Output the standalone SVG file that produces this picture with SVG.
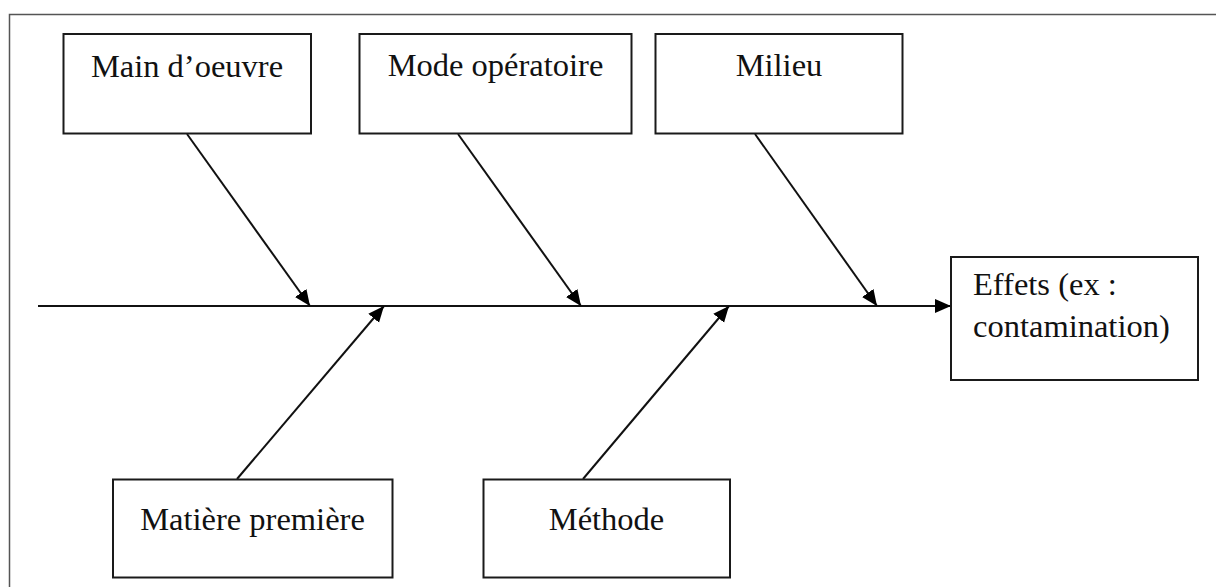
<svg xmlns="http://www.w3.org/2000/svg" width="1216" height="587" viewBox="0 0 1216 587">
  <style>
    .box { fill: #ffffff; stroke: #1a1a1a; stroke-width: 2; }
    .lbl { font-family: "Liberation Serif", "Times New Roman", serif; font-size: 32.5px; fill: #111111; }
    .mid { text-anchor: middle; }
    .conn { stroke: #111111; stroke-width: 2; fill: none; }
  </style>
  <defs>
    <marker id="arrow" markerUnits="userSpaceOnUse" markerWidth="18" markerHeight="16" refX="16" refY="7" orient="auto">
      <path d="M0,0 L16,7 L0,14 z" fill="#000000"/>
    </marker>
  </defs>
  <rect x="0" y="0" width="1216" height="587" fill="#ffffff"/>
  <path id="frame" d="M9.5,587 V14.5 H1216" fill="none" stroke="#555555" stroke-width="1.5"/>

  <g id="connectors">
    <line class="conn" x1="38" y1="306" x2="951" y2="306" marker-end="url(#arrow)"/>
    <line class="conn" x1="187" y1="134" x2="310" y2="306" marker-end="url(#arrow)"/>
    <line class="conn" x1="458" y1="134" x2="581" y2="306" marker-end="url(#arrow)"/>
    <line class="conn" x1="755" y1="134" x2="877" y2="306" marker-end="url(#arrow)"/>
    <line class="conn" x1="237" y1="479" x2="384" y2="306" marker-end="url(#arrow)"/>
    <line class="conn" x1="583" y1="479" x2="729" y2="306" marker-end="url(#arrow)"/>
  </g>

  <g id="main-oeuvre">
    <rect class="box" x="63.5" y="34" width="247.5" height="99.5"/>
    <text class="lbl mid" x="187" y="76.5">Main d’oeuvre</text>
  </g>
  <g id="mode-operatoire">
    <rect class="box" x="359.5" y="34" width="272" height="99.5"/>
    <text class="lbl mid" x="495.5" y="75.5">Mode opératoire</text>
  </g>
  <g id="milieu">
    <rect class="box" x="655.5" y="34" width="247" height="99.5"/>
    <text class="lbl mid" x="779" y="75.5">Milieu</text>
  </g>
  <g id="effets">
    <rect class="box" x="951" y="257" width="247" height="123"/>
    <text class="lbl" x="973" y="295">Effets (ex :</text>
    <text class="lbl" x="973" y="336.5">contamination)</text>
  </g>
  <g id="matiere-premiere">
    <rect class="box" x="113" y="479.5" width="279.5" height="98"/>
    <text class="lbl mid" x="252.5" y="529.5">Matière première</text>
  </g>
  <g id="methode">
    <rect class="box" x="483.5" y="479.5" width="246.5" height="98"/>
    <text class="lbl mid" x="606.5" y="529.5">Méthode</text>
  </g>
</svg>
